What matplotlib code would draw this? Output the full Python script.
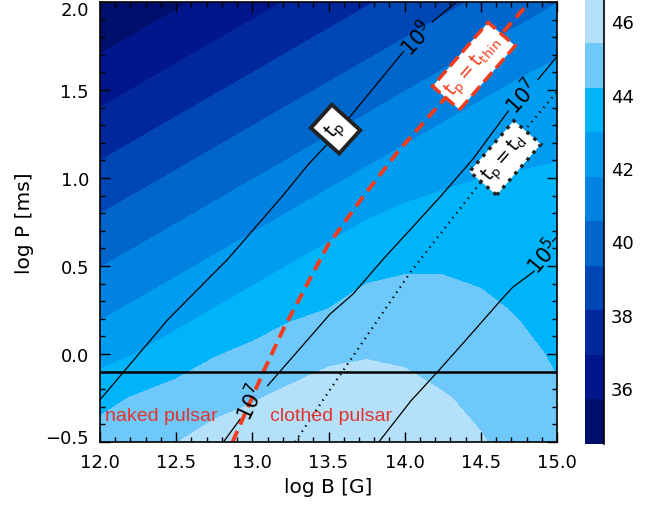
import numpy as np
import matplotlib
matplotlib.use("Agg")
import matplotlib.pyplot as plt
from matplotlib.transforms import ScaledTranslation

# grid of log B [G] and log P [ms]
log_b = [12.0, 12.25, 12.5, 12.75, 13.0, 13.25, 13.5, 13.75, 14.0, 14.25, 14.5, 14.75, 15.0]
log_p = [-0.5, -0.25, 0.0, 0.25, 0.5, 0.75, 1.0, 1.25, 1.5, 1.75, 2.0]

# colour field (log luminosity), one row per log P
lum_p_m050 = [44.65, 45.05, 45.37, 45.7, 46.0, 46.25, 46.45, 46.55, 46.4, 46.0, 45.45, 45.1, 44.6]
lum_p_m025 = [43.85, 44.3, 44.7, 45.1, 45.3, 45.65, 45.85, 46.0, 45.8, 45.45, 45.2, 44.8, 44.3]
lum_p_000 = [42.5, 43.0, 43.5, 44.1, 44.45, 44.8, 45.2, 45.3, 45.2, 45.05, 44.8, 44.45, 44.05]
lum_p_025 = [41.5, 42.0, 42.5, 43.0, 43.5, 43.95, 44.2, 44.45, 44.7, 44.7, 44.4, 44.1, 43.85]
lum_p_050 = [40.5, 41.0, 41.5, 42.0, 42.5, 43.0, 43.5, 44.0, 44.05, 44.05, 43.95, 43.75, 43.6]
lum_p_075 = [39.5, 40.0, 40.5, 41.0, 41.5, 42.0, 42.5, 43.0, 43.3, 43.5, 43.55, 43.45, 43.35]
lum_p_100 = [38.5, 39.0, 39.5, 40.0, 40.5, 41.0, 41.5, 42.0, 42.5, 42.75, 42.95, 43.0, 43.05]
lum_p_125 = [37.5, 38.0, 38.5, 39.0, 39.5, 40.0, 40.5, 41.0, 41.5, 42.0, 42.5, 42.75, 42.8]
lum_p_150 = [36.5, 37.0, 37.5, 38.0, 38.5, 39.0, 39.5, 40.0, 40.5, 41.0, 41.5, 42.0, 42.3]
lum_p_175 = [35.5, 36.0, 36.5, 37.0, 37.5, 38.0, 38.5, 39.0, 39.5, 40.0, 40.5, 41.0, 41.5]
lum_p_200 = [34.5, 35.0, 35.5, 36.0, 36.5, 37.0, 37.5, 38.0, 38.5, 39.0, 39.5, 40.0, 40.5]

levels = [34.47, 35.68, 36.90, 38.11, 39.32, 40.54, 41.75, 42.96, 44.18, 45.39, 46.60]
band_colors = ['#000e6c', '#00168a', '#00289c', '#0046b4', '#0066cc',
               '#0082e0', '#009cf0', '#00b4fa', '#6ec8fa', '#b4e0fa']
cbar_ticks = [36, 38, 40, 42, 44, 46]

# t_p contours (B, P), split where the labels sit
tp9_low_b = [12.0, 12.45, 12.84, 13.01, 13.2, 13.36, 13.5, 13.99]
tp9_low_p = [-0.26, 0.2, 0.54, 0.71, 0.90, 1.07, 1.2, 1.716]
tp9_top_b = [14.18, 14.34]
tp9_top_p = [1.886, 2.0]
tp7_a_b = [12.81, 12.92]
tp7_a_p = [-0.5, -0.37]
tp7_b_b = [13.1, 13.51, 13.66, 13.86, 14.04, 14.24, 14.45, 14.68]
tp7_b_p = [-0.18, 0.227, 0.34, 0.54, 0.71, 0.90, 1.11, 1.38]
tp7_c_b = [14.875, 15.0]
tp7_c_p = [1.56, 1.69]
tp5_a_b = [13.83, 14.04, 14.22, 14.39, 14.65, 14.71, 14.85]
tp5_a_p = [-0.5, -0.267, -0.097, 0.068, 0.324, 0.38, 0.47]
tp5_b_b = [14.97, 15.0]
tp5_b_p = [0.64, 0.665]

# t_p = t_thin (red dashed) and t_p = t_d (dotted)
thin_b = [12.87, 13.072, 13.204, 13.493, 13.73, 13.954, 14.191, 14.809]
thin_p = [-0.5, -0.102, 0.142, 0.614, 0.898, 1.148, 1.381, 1.989]
td_b = [13.28, 13.513, 14.039, 14.48, 15.0]
td_p = [-0.5, -0.199, 0.466, 0.955, 1.49]

p_split = -0.1

B, P = np.meshgrid(log_b, log_p)
lum = np.array([lum_p_m050, lum_p_m025, lum_p_000, lum_p_025, lum_p_050, lum_p_075,
                lum_p_100, lum_p_125, lum_p_150, lum_p_175, lum_p_200])

plt.rcParams['font.family'] = 'DejaVu Sans'
fig = plt.figure(figsize=(6.49, 5.06), dpi=100)
ax = fig.add_axes([0.1541, 0.1245, 0.7042, 0.8696])

cs = ax.contourf(B, P, lum, levels=levels, colors=band_colors)

line_kw = dict(color='black', lw=0.9)
ax.plot(tp9_low_b, tp9_low_p, **line_kw)
ax.plot(tp9_top_b, tp9_top_p, **line_kw)
ax.plot(tp7_a_b, tp7_a_p, **line_kw)
ax.plot(tp7_b_b, tp7_b_p, **line_kw)
ax.plot(tp7_c_b, tp7_c_p, **line_kw)
ax.plot(tp5_a_b, tp5_a_p, **line_kw)
ax.plot(tp5_b_b, tp5_b_p, **line_kw)

lab_kw = dict(fontsize=15, ha='center', va='center')
ax.text(14.08, 1.80, r'$10^9$', rotation=48, **lab_kw)
ax.text(14.77, 1.47, r'$10^7$', rotation=48, **lab_kw)
ax.text(12.99, -0.27, r'$10^7$', rotation=65, **lab_kw)
ax.text(14.91, 0.56, r'$10^5$', rotation=50, **lab_kw)

red = '#f23c1c'
ax.plot(thin_b, thin_p, color=red, lw=2.8, dashes=(3.1, 1.8))
ax.plot(td_b, td_p, color='black', lw=1.6, dashes=(0.6, 2.2))
ax.axhline(p_split, color='black', lw=1.8)

ax.text(13.546, 1.278, r'$\mathrm{t_p}$', rotation=48, fontsize=14,
        ha='center', va='center', zorder=5,
        bbox=dict(boxstyle='square,pad=0.35', fc='white', ec='#222222', lw=2.8))
ax.text(14.454, 1.636, r'$\mathrm{t_p = t_{thin}}$', rotation=49, fontsize=13.5,
        color=red, ha='center', va='center', zorder=5,
        bbox=dict(boxstyle='square,pad=0.3', fc='white', ec=red, lw=2.5, ls='--'))
ax.text(14.66, 1.114, r'$\mathrm{t_p = t_d}$', rotation=49, fontsize=13.5,
        ha='center', va='center', zorder=5,
        bbox=dict(boxstyle='square,pad=0.3', fc='white', ec='#222222', lw=2.5, ls=':'))

ax.text(12.03, -0.35, 'naked pulsar', color='#e5322d', fontsize=14,
        family='Liberation Sans', ha='left', va='center')
ax.text(13.118, -0.35, 'clothed pulsar', color='#e5322d', fontsize=14,
        family='Liberation Sans', ha='left', va='center')

ax.set_xlim(12.0, 15.0)
ax.set_ylim(-0.5, 2.0)
ax.set_xticks(np.arange(12.0, 15.01, 0.5))
ax.set_yticks(np.arange(-0.5, 2.01, 0.5))
ax.set_xticks(np.arange(12.0, 15.01, 0.1), minor=True)
ax.set_yticks(np.arange(-0.5, 2.01, 0.1), minor=True)
fmt = matplotlib.ticker.FuncFormatter(lambda v, pos: f'{v:.1f}'.replace('-', '\u2212'))
ax.xaxis.set_major_formatter(fmt)
ax.yaxis.set_major_formatter(fmt)
ax.tick_params(which='both', direction='in', top=True, right=True, labelsize=13, width=1)
ax.tick_params(which='major', length=7, pad=8)
ax.tick_params(which='minor', length=3.5)
for s in ax.spines.values():
    s.set_linewidth(1.2)
ax.set_xlabel('log B [G]', fontsize=14.5, labelpad=4)
ax.set_ylabel('log P [ms]', fontsize=14.5, labelpad=8)

# end labels sit inside the frame, as in the original
yt = ax.yaxis.get_major_ticks()
yt[-1].label1.set_transform(yt[-1].label1.get_transform()
                            + ScaledTranslation(0, -4 / 72, fig.dpi_scale_trans))
yt[0].label1.set_transform(yt[0].label1.get_transform()
                           + ScaledTranslation(0, 4 / 72, fig.dpi_scale_trans))

cax = fig.add_axes([0.9014, 0.1206, 0.0293, 0.8794])
cb = fig.colorbar(cs, cax=cax, ticks=cbar_ticks)
cb.outline.set_visible(False)
cax.tick_params(length=0, labelsize=13, pad=5)
cax.plot([1, 1], [0, 1], transform=cax.transAxes, color='black', lw=1.2, clip_on=False)

fig.savefig('out.png', dpi=100)
